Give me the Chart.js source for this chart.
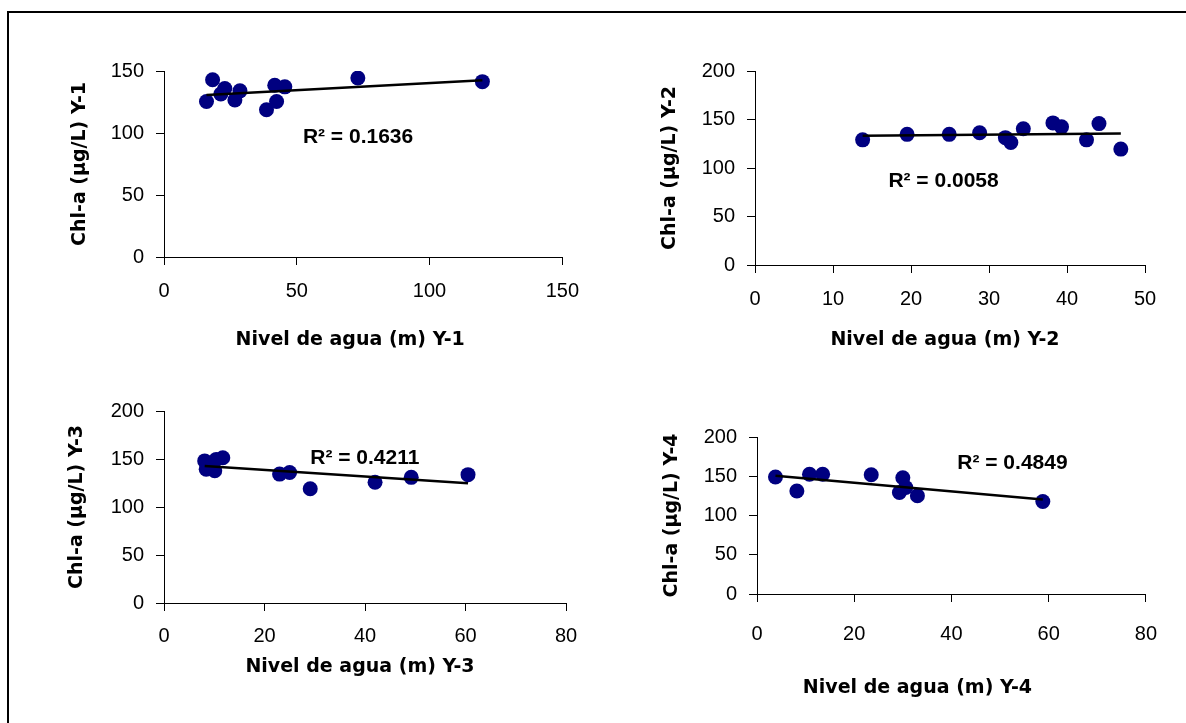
<!DOCTYPE html>
<html>
<head>
<meta charset="utf-8">
<script src="https://cdn.jsdelivr.net/npm/chart.js@4.4.1/dist/chart.umd.min.js"></script>
<style>
    body { margin: 0; background: #fff; }
    #page { position: relative; width: 1186px; height: 723px; overflow: hidden; background: #fff; }
    #frame { position: absolute; left: 7px; top: 11px; width: 1300px; height: 800px; border-left: 2px solid #000; border-top: 2px solid #000; }
    #page canvas { position: absolute; }
</style>
</head>
<body>
<div id="page"><div id="frame"></div></div>
<script>
// Nivel de agua (m) vs Chl-a (µg/L), one set per year
const nivelY1 = [16, 18.3, 21.4, 22.9, 26.7, 28.6, 38.6, 41.7, 42.4, 45.5, 73, 119.9];
const chlY1   = [125.4, 143, 131.4, 135.9, 126.6, 134, 118.7, 138.5, 125.4, 137.2, 144.3, 141.4];

const nivelY2 = [13.8, 19.5, 24.9, 28.8, 32.1, 32.8, 34.4, 38.2, 39.3, 42.5, 44.1, 46.9];
const chlY2   = [129, 134.7, 134.7, 136.4, 131.3, 126.3, 140.4, 146.5, 142.4, 129, 145.8, 119.5];

const nivelY3 = [8.1, 8.4, 10.1, 10.4, 11.7, 23, 25, 29.1, 42, 49.2, 60.5];
const chlY3   = [148, 139.4, 137.8, 149.6, 151.3, 134.3, 136, 119, 125.8, 130.9, 133.7];

const nivelY4 = [3.8, 8.2, 10.8, 13.5, 23.5, 29.3, 30, 30.6, 33, 58.8];
const chlY4   = [149, 131.3, 152.5, 152.5, 152, 129.3, 148, 135.6, 125.2, 117.8];

// tick values for each axis
const xTicksY1 = [0, 50, 100, 150];
const yTicksY1 = [0, 50, 100, 150];
const xTicksY2 = [0, 10, 20, 30, 40, 50];
const yTicksY2 = [0, 50, 100, 150, 200];
const xTicksY3 = [0, 20, 40, 60, 80];
const yTicksY3 = [0, 50, 100, 150, 200];
const xTicksY4 = [0, 20, 40, 60, 80];
const yTicksY4 = [0, 50, 100, 150, 200];

const r2Labels = ['R² = 0.1636', 'R² = 0.0058', 'R² = 0.4211', 'R² = 0.4849'];

const TICK_FONT = { family: '"Liberation Sans", Arial, sans-serif', size: 20 };
const TITLE_FONT = { family: '"DejaVu Sans", sans-serif', size: 19, weight: 'bold' };
const Y_AXIS_W = 110;
const X_AXIS_H = 120;

// least squares line over the x range of the points
function trendline(xs, ys) {
    const n = xs.length;
    const mx = xs.reduce((a, b) => a + b, 0) / n;
    const my = ys.reduce((a, b) => a + b, 0) / n;
    let sxy = 0, sxx = 0;
    for (let i = 0; i < n; i++) {
        sxy += (xs[i] - mx) * (ys[i] - my);
        sxx += (xs[i] - mx) * (xs[i] - mx);
    }
    const slope = sxy / sxx;
    const icpt = my - slope * mx;
    const x0 = Math.min(...xs), x1 = Math.max(...xs);
    return [{ x: x0, y: icpt + slope * x0 }, { x: x1, y: icpt + slope * x1 }];
}

// x axis caption and R² label
const panelText = {
    id: 'panelText',
    afterDatasetsDraw(chart, args, opts) {
        const { ctx, chartArea, scales } = chart;
        ctx.save();
        ctx.fillStyle = '#000';
        ctx.font = 'bold 21px "Liberation Sans", Arial, sans-serif';
        ctx.textAlign = 'left';
        ctx.textBaseline = 'alphabetic';
        ctx.fillText(opts.r2, scales.x.getPixelForValue(opts.r2At[0]), scales.y.getPixelForValue(opts.r2At[1]));

        ctx.font = 'bold 19px "DejaVu Sans", sans-serif';
        ctx.textAlign = 'center';
        ctx.textBaseline = 'middle';
        const cx = (chartArea.left + chartArea.right) / 2 + opts.shift;
        ctx.fillText(opts.xTitle, cx, chartArea.bottom + opts.drop);
        ctx.restore();
    }
};

function axis(ticks, extra) {
    return Object.assign({
        type: 'linear',
        min: ticks[0],
        max: ticks[ticks.length - 1],
        grid: { drawOnChartArea: false, tickLength: 8, color: '#000', lineWidth: 1 },
        border: { color: '#000', width: 1 }
    }, extra);
}

function makePanel(p) {
    const canvas = document.createElement('canvas');
    canvas.width = p.area[2] - p.area[0] + Y_AXIS_W + 30;
    canvas.height = p.area[3] - p.area[1] + 20 + X_AXIS_H;
    canvas.style.left = (p.area[0] - Y_AXIS_W) + 'px';
    canvas.style.top = (p.area[1] - 20) + 'px';
    document.getElementById('page').appendChild(canvas);

    const points = p.xs.map((x, i) => ({ x: x, y: p.ys[i] }));

    new Chart(canvas.getContext('2d'), {
        type: 'scatter',
        data: {
            datasets: [{
                type: 'line',
                data: trendline(p.xs, p.ys),
                borderColor: '#000',
                borderWidth: 2.5,
                pointRadius: 0,
                fill: false
            }, {
                data: points,
                backgroundColor: '#000080',
                borderWidth: 0,
                pointRadius: 7.5,
                pointHoverRadius: 7.5
            }]
        },
        options: {
            responsive: false,
            animation: false,
            layout: { padding: { top: 20, right: 30, left: 0, bottom: 0 } },
            plugins: {
                legend: { display: false },
                tooltip: { enabled: false },
                panelText: { r2: p.r2, r2At: p.r2At, xTitle: p.xTitle, shift: p.shift, drop: p.drop }
            },
            scales: {
                x: axis(p.xTicks, {
                    ticks: { stepSize: p.xTicks[1] - p.xTicks[0], color: '#000', font: TICK_FONT, padding: p.xPad, maxRotation: 0 },
                    afterFit(s) { s.height = X_AXIS_H; }
                }),
                y: axis(p.yTicks, {
                    ticks: { stepSize: p.yTicks[1] - p.yTicks[0], color: '#000', font: TICK_FONT, padding: 12 },
                    title: { display: true, text: p.yTitle, color: '#000', font: TITLE_FONT, padding: { top: p.yTitlePad, bottom: 0 } },
                    afterFit(s) { s.width = Y_AXIS_W; }
                })
            }
        },
        plugins: [panelText]
    });
}

const panels = [
    { area: [164, 67, 563, 257], xs: nivelY1, ys: chlY1, xTicks: xTicksY1, yTicks: yTicksY1,
      r2: r2Labels[0], r2At: [52.3, 92.2], xTitle: 'Nivel de agua (m) Y-1', yTitle: 'Chl-a (µg/L) Y-1',
      shift: -13, drop: 83, xPad: 14, yTitlePad: 14.5 },
    { area: [755, 67, 1145, 265], xs: nivelY2, ys: chlY2, xTicks: xTicksY2, yTicks: yTicksY2,
      r2: r2Labels[1], r2At: [17.1, 80.8], xTitle: 'Nivel de agua (m) Y-2', yTitle: 'Chl-a (µg/L) Y-2',
      shift: -5, drop: 75, xPad: 14, yTitlePad: 14 },
    { area: [164, 407, 566, 603], xs: nivelY3, ys: chlY3, xTicks: xTicksY3, yTicks: yTicksY3,
      r2: r2Labels[2], r2At: [29.1, 145.2], xTitle: 'Nivel de agua (m) Y-3', yTitle: 'Chl-a (µg/L) Y-3',
      shift: -5, drop: 64, xPad: 13, yTitlePad: 11.5 },
    { area: [757, 433, 1147, 594], xs: nivelY4, ys: chlY4, xTicks: xTicksY4, yTicks: yTicksY4,
      r2: r2Labels[3], r2At: [41.2, 159.2], xTitle: 'Nivel de agua (m) Y-4', yTitle: 'Chl-a (µg/L) Y-4',
      shift: -34, drop: 94, xPad: 20, yTitlePad: 13.5 }
];

document.addEventListener('DOMContentLoaded', () => panels.forEach(makePanel));
</script>
</body>
</html>
